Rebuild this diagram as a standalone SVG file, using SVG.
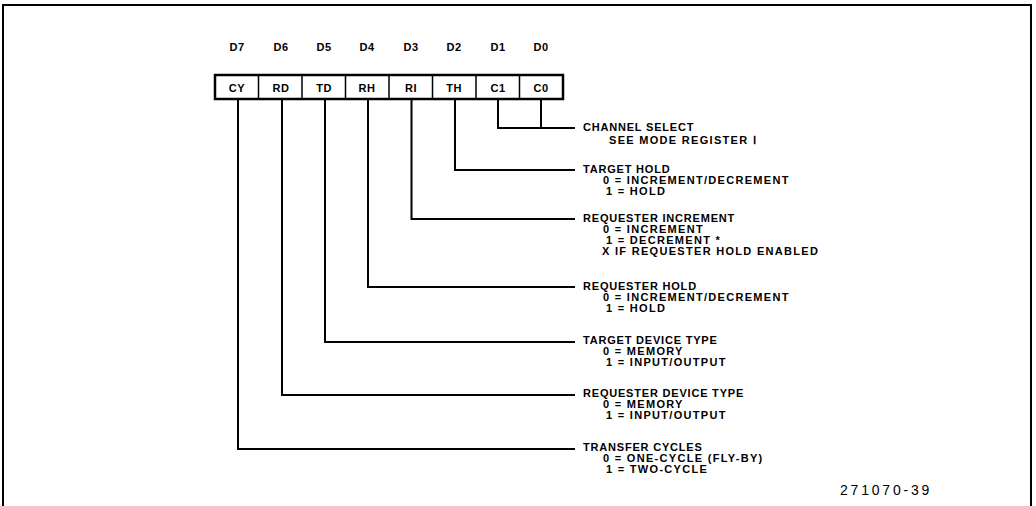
<svg xmlns="http://www.w3.org/2000/svg" width="1036" height="506" viewBox="0 0 1036 506">
<style>
.ln{fill:none;stroke:#000;stroke-width:2}
.box{fill:#fff;stroke:#000;stroke-width:2.5}
.cell{fill:none;stroke:#000;stroke-width:1.5}
text{font-family:"Liberation Sans",Arial,sans-serif;font-weight:bold;font-size:11px;fill:#000}
.c{text-anchor:middle;font-size:11.5px;letter-spacing:0.5px}
.t{letter-spacing:0.8px}
.s{letter-spacing:1.3px}
.fig{font-weight:normal;font-size:14px;letter-spacing:2.8px}
</style>
<rect width="1036" height="506" fill="#fff"/>
<path class="ln" d="M3,506 V5 H1031 V506"/>
<g id="register">
  <rect class="box" x="215" y="75" width="348" height="24"/>
  <path class="cell" d="M258.5,75V99M302,75V99M345.5,75V99M389,75V99M432.5,75V99M476,75V99M519.5,75V99"/>
  <g class="c">
    <text x="237" y="51">D7</text><text x="281" y="51">D6</text><text x="324" y="51">D5</text><text x="367" y="51">D4</text>
    <text x="411" y="51">D3</text><text x="454" y="51">D2</text><text x="498" y="51">D1</text><text x="541" y="51">D0</text>
    <text x="237" y="91.5">CY</text><text x="281" y="91.5">RD</text><text x="324" y="91.5">TD</text><text x="367" y="91.5">RH</text>
    <text x="411" y="91.5">RI</text><text x="454" y="91.5">TH</text><text x="498" y="91.5">C1</text><text x="541" y="91.5">C0</text>
  </g>
</g>
<g id="connectors">
  <path class="ln" d="M498,99V128H575M541,99V128"/>
  <path class="ln" d="M455,99V170H575"/>
  <path class="ln" d="M411.5,99V219H575"/>
  <path class="ln" d="M368,99V287H575"/>
  <path class="ln" d="M325,99V342H575"/>
  <path class="ln" d="M282,99V395H575"/>
  <path class="ln" d="M238,99V449H575"/>
</g>
<g id="channel-select">
  <text class="t" x="583" y="131">CHANNEL SELECT</text>
  <text class="s" x="609" y="143.5">SEE MODE REGISTER Ⅰ</text>
</g>
<g id="target-hold">
  <text class="t" x="583" y="173">TARGET HOLD</text>
  <text class="s" x="603" y="184">0 = INCREMENT/DECREMENT</text>
  <text class="s" x="606" y="195">1 = HOLD</text>
</g>
<g id="requester-increment">
  <text class="t" x="583" y="222">REQUESTER INCREMENT</text>
  <text class="s" x="603" y="233">0 = INCREMENT</text>
  <text class="s" x="606" y="244">1 = DECREMENT *</text>
  <text class="s" x="602" y="255">X IF REQUESTER HOLD ENABLED</text>
</g>
<g id="requester-hold">
  <text class="t" x="583" y="290">REQUESTER HOLD</text>
  <text class="s" x="603" y="301">0 = INCREMENT/DECREMENT</text>
  <text class="s" x="606" y="312">1 = HOLD</text>
</g>
<g id="target-device-type">
  <text class="t" x="583" y="344">TARGET DEVICE TYPE</text>
  <text class="s" x="603" y="355">0 = MEMORY</text>
  <text class="s" x="606" y="366">1 = INPUT/OUTPUT</text>
</g>
<g id="requester-device-type">
  <text class="t" x="583" y="397">REQUESTER DEVICE TYPE</text>
  <text class="s" x="603" y="408">0 = MEMORY</text>
  <text class="s" x="606" y="419">1 = INPUT/OUTPUT</text>
</g>
<g id="transfer-cycles">
  <text class="t" x="583" y="451">TRANSFER CYCLES</text>
  <text class="s" x="603" y="462">0 = ONE-CYCLE (FLY-BY)</text>
  <text class="s" x="606" y="473">1 = TWO-CYCLE</text>
</g>
<text class="fig" x="840" y="495">271070-39</text>
</svg>
